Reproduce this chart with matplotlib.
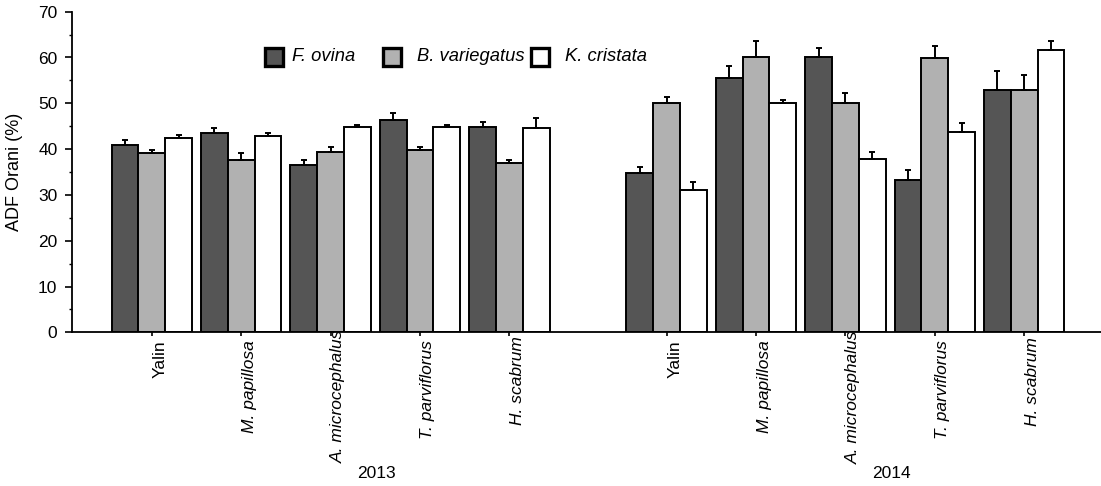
import numpy as np
import matplotlib
matplotlib.use("Agg")
import matplotlib.pyplot as plt
from matplotlib.patches import Rectangle
from matplotlib.ticker import MultipleLocator
from matplotlib.transforms import ScaledTranslation, blended_transform_factory

plt.rcParams['font.family'] = ['Liberation Sans', 'DejaVu Sans']

years = ['2013', '2014']
plants = ['Yalin', 'M. papillosa', 'A. microcephalus', 'T. parviflorus', 'H. scabrum']
species = ['F. ovina', 'B. variegatus', 'K. cristata']

# ADF means (%): five 2013 groups followed by five 2014 groups
f_ovina = [40.9, 43.5, 36.6, 46.4, 44.9, 34.7, 55.6, 60.2, 33.3, 53.0]
b_variegatus = [39.1, 37.6, 39.4, 39.8, 36.9, 50.0, 60.2, 50.0, 59.9, 53.0]
k_cristata = [42.5, 42.8, 44.9, 44.9, 44.6, 31.1, 50.0, 37.9, 43.8, 61.7]

# standard errors
f_ovina_se = [1.1, 1.1, 1.0, 1.5, 1.1, 1.5, 2.5, 1.9, 2.1, 4.1]
b_variegatus_se = [0.8, 1.5, 1.1, 0.7, 0.7, 1.4, 3.4, 2.2, 2.6, 3.2]
k_cristata_se = [0.6, 0.7, 0.4, 0.4, 2.2, 1.8, 0.7, 1.5, 1.9, 1.9]

colors = ['#555555', '#b1b1b1', '#ffffff']

W, H = 1101, 486
fig = plt.figure(figsize=(W / 100, H / 100), dpi=100)
ax = fig.add_axes([72 / W, 1 - 332.3 / H, 1 - 72 / W, (332.3 - 11.7) / H])

n = len(plants)
group_pos = np.concatenate([np.arange(n), 5.76 + np.arange(n)])
width = 0.3
means = [f_ovina, b_variegatus, k_cristata]
errs = [f_ovina_se, b_variegatus_se, k_cristata_se]

for i, (m, e, c) in enumerate(zip(means, errs, colors)):
    x = group_pos + (i - 1) * width
    ax.bar(x, m, width=width, color=c, edgecolor='black', linewidth=1.4, zorder=2)
    ax.errorbar(x, m, yerr=[np.zeros(len(m)), e], fmt='none', ecolor='black',
                elinewidth=1.4, capsize=2.3, capthick=1.4, zorder=3)

ax.set_xlim(-0.893, 10.62)
ax.set_ylim(0, 70)
ax.yaxis.set_major_locator(MultipleLocator(10))
ax.yaxis.set_minor_locator(MultipleLocator(5))
ax.spines['top'].set_visible(False)
ax.spines['right'].set_visible(False)
ax.spines['left'].set_linewidth(1.3)
ax.spines['bottom'].set_linewidth(1.3)

ax.tick_params(axis='y', which='major', direction='out', length=5, width=1.2,
               pad=5.5, labelsize=12.5)
ax.tick_params(axis='y', which='minor', direction='out', length=2.5, width=1.0)
ax.tick_params(axis='x', which='major', direction='out', length=3, width=1.2,
               pad=2.5, labelsize=12.5)

ax.set_xticks(group_pos)
ax.set_xticklabels(plants * len(years), rotation=90, ha='center', va='top')
# small upward nudges (px) for the longer category names
lift = [0, 0, 10, 0, 4, 0, 0, 9, 0, 3]
for lbl, up in zip(ax.get_xticklabels(), lift):
    shift = ScaledTranslation(8 / 100, up / 100, fig.dpi_scale_trans)
    lbl.set_transform(lbl.get_transform() + shift)
    if lbl.get_text() != 'Yalin':
        lbl.set_fontstyle('italic')

ax.set_ylabel('ADF Orani (%)', fontsize=13)
ax.yaxis.set_label_coords((23 - 72) / (W - 72), 0.5)

trans = blended_transform_factory(ax.transData, fig.transFigure)
for k, yr in enumerate(years):
    ax.text(group_pos[k * n + 2] + 0.51, 1 - 473 / H, yr, transform=trans,
            ha='center', va='center', fontsize=12.5)

# legend strip: white panel with three swatches and italic names
def fx(px):
    return px / W

def fy(py):
    return 1 - py / H

fig.patches.append(Rectangle((fx(256.7), fy(76)), fx(653) - fx(256.7), fy(36.7) - fy(76),
                             transform=fig.transFigure, facecolor='white',
                             edgecolor='none', zorder=5))
swatch_x = [265, 382.7, 531]
text_x = [291.7, 416.7, 565]
for sx, tx, c, name in zip(swatch_x, text_x, colors, species):
    fig.patches.append(Rectangle((fx(sx), fy(66)), fx(18), 18 / H,
                                 transform=fig.transFigure, facecolor=c,
                                 edgecolor='black', linewidth=2.4, zorder=6))
    fig.text(fx(tx), fy(56.5), name, ha='left', va='center', fontsize=13.2,
             fontstyle='italic', zorder=7)

fig.savefig('out.png', dpi=100)
